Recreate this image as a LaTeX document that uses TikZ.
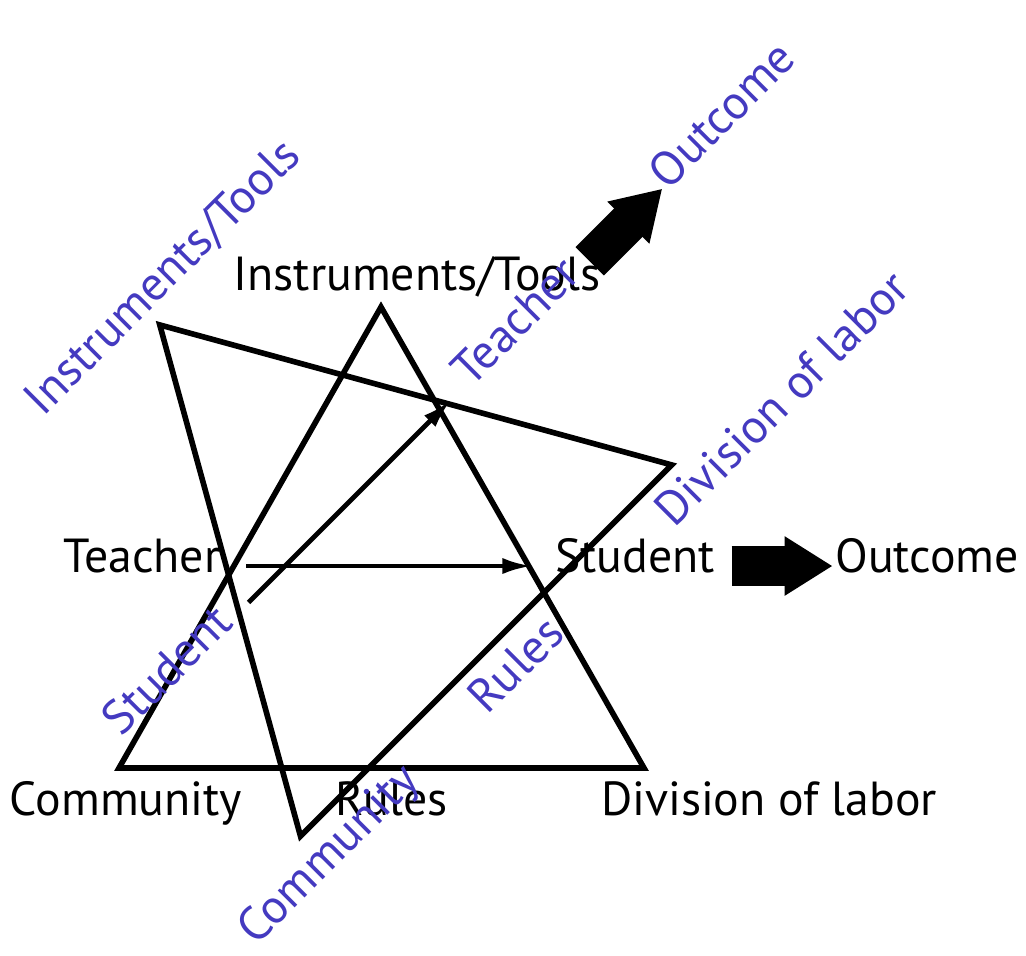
\documentclass[tikz,border=0pt]{standalone}
\usepackage{fontspec}
\setmainfont{PT Sans}
\usetikzlibrary{arrows.meta}
\definecolor{labelblue}{RGB}{68,58,192}

\begin{document}
\begin{tikzpicture}[x=1mm,y=1mm,
        tri/.style={black,line width=1.6pt},
        lbl/.style={font=\fontsize{13.6}{16}\selectfont,text height=2mm,text depth=0.8mm},
        rlbl/.style={lbl,labelblue,transform shape},
        thinarrow/.style={black,line width=1.4pt,-{Latex[length=3mm,width=1.6mm]},shorten <=2.5mm,shorten >=2.2mm},
        blockarrow/.style={black,line width=4mm,-{Triangle[length=4.8mm,width=5.6mm]},shorten <=1.6mm,shorten >=0.2mm}]
            \tikzstyle{every node}+=[inner sep=0pt]
            \useasboundingbox (0,0) rectangle (102.6,-95.5);
            \coordinate (apex) at (38.1,-30.7);
            \coordinate (left) at (11.9,-76.8);
            \coordinate (right) at (64.4,-76.8);
            \draw [tri] (apex) -- (left) -- (right) -- cycle;
            \node [lbl] (instr) at (41.7,-28.4) {Instruments/Tools};
            \node [lbl] (teacher) at (14.2,-56.6) {Teacher};
            \node [lbl] (student) at (63.5,-56.6) {Student};
            \node [lbl] (outcome) at (92.7,-56.6) {Outcome};
            \node [lbl] (community) at (12.6,-80.9) {Community};
            \node [lbl] (rules) at (39.2,-80.9) {Rules};
            \node [lbl] (division) at (76.9,-80.9) {Division of labor};
            \draw [thinarrow] (teacher.east) -- (student.west);
            \draw [blockarrow] (student.east) -- (outcome.west);
            \begin{scope}[rotate around={45:(29.2,-58.3)}]
            \coordinate (rapex) at (38.1,-30.7);
            \coordinate (rleft) at (11.9,-76.8);
            \coordinate (rright) at (64.4,-76.8);
            \draw [tri] (rapex) -- (rleft) -- (rright) -- cycle;
            \node [rlbl] (rinstr) at (41.7,-28.4) {Instruments/Tools};
            \node [rlbl] (rstudent) at (14.2,-56.6) {Student};
            \node [rlbl] (rteacher) at (63.5,-56.6) {Teacher};
            \node [rlbl] (routcome) at (92.7,-56.6) {Outcome};
            \node [rlbl] (rcommunity) at (12.6,-80.9) {Community};
            \node [rlbl] (rrules) at (39.2,-80.9) {Rules};
            \node [rlbl] (rdivision) at (76.9,-80.9) {Division of labor};
            \draw [thinarrow] (rstudent.east) -- (rteacher.west);
            \draw [blockarrow] (rteacher.east) -- (routcome.west);
            \end{scope}
\end{tikzpicture}
\end{document}
